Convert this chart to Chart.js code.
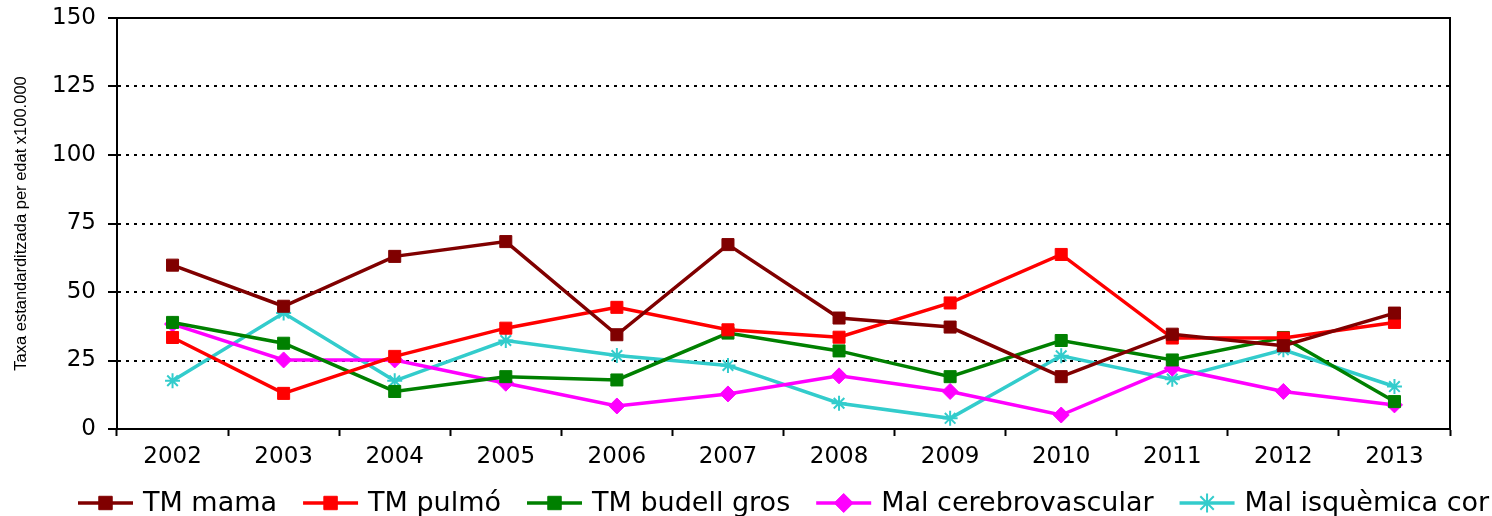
<!DOCTYPE html>
<html>
<head>
<meta charset="utf-8">
<script src="https://cdn.jsdelivr.net/npm/chart.js@4.4.0/dist/chart.umd.min.js"></script>
<style>
  html, body { margin: 0; padding: 0; background: #ffffff; }
  #wrap { width: 1492px; height: 516px; }
</style>
</head>
<body>
<div id="wrap"><canvas id="myChart" width="1492" height="516"></canvas></div>
<script>
var years = ["2002","2003","2004","2005","2006","2007","2008","2009","2010","2011","2012","2013"];

var tm_mama = [59.8, 44.8, 63.0, 68.4, 34.4, 67.3, 40.5, 37.2, 19.1, 34.6, 30.4, 42.3];
var tm_pulmo = [33.4, 13.0, 26.5, 36.8, 44.4, 36.2, 33.5, 46.0, 63.7, 33.2, 33.2, 38.9];
var tm_budell = [38.9, 31.3, 13.7, 19.1, 17.9, 35.0, 28.5, 19.1, 32.3, 25.2, 33.4, 10.0];
var mal_cerebro = [38.3, 25.2, 25.2, 16.7, 8.4, 12.8, 19.4, 13.7, 5.1, 22.2, 13.7, 8.8];
var mal_isquemica = [17.6, 42.3, 17.6, 32.3, 26.8, 23.2, 9.4, 3.9, 26.7, 18.2, 28.9, 15.5];

var y_ticks = [0, 25, 50, 75, 100, 125, 150];

function serie(label, data, color, style, radius) {
    return {
        label: label,
        data: data,
        borderColor: color,
        backgroundColor: color,
        borderWidth: 3.5,
        pointStyle: style,
        pointRadius: radius,
        pointHoverRadius: radius,
        pointBorderColor: color,
        pointBackgroundColor: color,
        pointBorderWidth: style === 'star' ? 2 : 1,
        tension: 0
    };
}

var datasets = [
    serie("TM mama", tm_mama, "#800000", "rect", 8.5),
    serie("TM pulmó", tm_pulmo, "#FF0000", "rect", 8.5),
    serie("TM budell gros", tm_budell, "#008000", "rect", 8.5),
    serie("Mal cerebrovascular", mal_cerebro, "#FF00FF", "rectRot", 8),
    serie("Mal isquèmica cor", mal_isquemica, "#33CCCC", "star", 7.5)
];

// box around the plot area (top and right edges)
var frame = {
    id: 'frame',
    afterDatasetsDraw: function(chart) {
        var a = chart.chartArea, ctx = chart.ctx;
        ctx.save();
        ctx.strokeStyle = '#000';
        ctx.lineWidth = 2;
        ctx.beginPath();
        ctx.moveTo(a.left, a.top);
        ctx.lineTo(a.right, a.top);
        ctx.lineTo(a.right, a.bottom);
        ctx.stroke();
        ctx.restore();
    }
};

// legend drawn as line + marker, like the series themselves
var lineLegend = {
    id: 'lineLegend',
    afterDraw: function(chart) {
        var ctx = chart.ctx;
        var x = 78, y = 503;
        ctx.save();
        ctx.font = '27px "DejaVu Sans"';
        ctx.textBaseline = 'middle';
        chart.data.datasets.forEach(function(ds) {
            ctx.strokeStyle = ds.borderColor;
            ctx.lineWidth = 3.5;
            ctx.beginPath();
            ctx.moveTo(x, y);
            ctx.lineTo(x + 55, y);
            ctx.stroke();
            ctx.fillStyle = ds.pointBackgroundColor;
            ctx.strokeStyle = ds.pointBorderColor;
            ctx.lineWidth = ds.pointBorderWidth;
            Chart.helpers.drawPoint(ctx, {pointStyle: ds.pointStyle, radius: 9.5, borderWidth: ds.pointBorderWidth}, x + 27.5, y);
            ctx.fillStyle = '#000';
            ctx.fillText(ds.label, x + 65, y + 1);
            x += 65 + ctx.measureText(ds.label).width + 26;
        });
        ctx.restore();
    }
};

var ctx = document.getElementById("myChart");
var myLineChart = new Chart(ctx, {
    type: "line",
    data: { labels: years, datasets: datasets },
    plugins: [frame, lineLegend],
    options: {
        responsive: false,
        animation: false,
        layout: { padding: { left: 0, right: 42, top: 18, bottom: 47 } },
        plugins: {
            legend: { display: false },
            tooltip: { enabled: false }
        },
        scales: {
            x: {
                offset: true,
                afterFit: function(scale) {
                    scale.height = 40;
                    scale.paddingLeft = 0;
                    scale.paddingRight = 0;
                },
                grid: {
                    offset: true,
                    drawOnChartArea: false,
                    drawTicks: true,
                    tickLength: 7,
                    tickColor: '#000',
                    tickWidth: 2
                },
                border: { display: true, color: '#000', width: 2 },
                ticks: {
                    color: '#000',
                    padding: 7,
                    maxRotation: 0,
                    font: { family: 'DejaVu Sans', size: 23 }
                }
            },
            y: {
                min: 0,
                max: 150,
                afterFit: function(scale) {
                    scale.width = 117;
                    scale.paddingTop = 0;
                    scale.paddingBottom = 0;
                },
                afterBuildTicks: function(scale) {
                    scale.ticks = y_ticks.map(function(v) { return { value: v }; });
                },
                grid: {
                    color: function(c) {
                        return (c.tick && (c.tick.value === 0 || c.tick.value === 150)) ? 'rgba(0,0,0,0)' : '#000';
                    },
                    lineWidth: 2,
                    drawTicks: true,
                    tickLength: 9,
                    tickColor: '#000',
                    tickWidth: 2,
                    tickBorderDash: []
                },
                border: { display: true, color: '#000', width: 2, dash: [3, 5] },
                ticks: {
                    color: '#000',
                    padding: 12,
                    font: { family: 'DejaVu Sans', size: 23 }
                },
                title: {
                    display: true,
                    text: 'Taxa estandarditzada per edat x100.000',
                    color: '#000',
                    padding: { top: 12, bottom: 0 },
                    font: { family: 'Liberation Sans', size: 16.5 }
                }
            }
        }
    }
});
</script>
</body>
</html>
